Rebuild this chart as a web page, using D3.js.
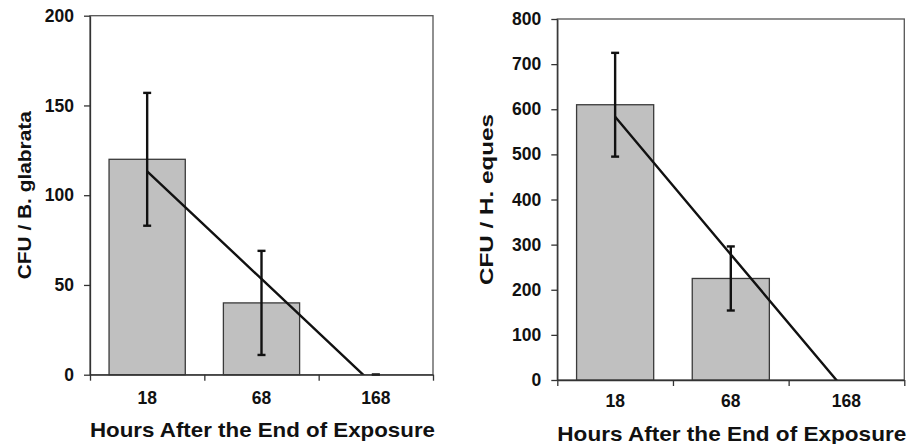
<!DOCTYPE html>
<html>
<head>
<meta charset="utf-8">
<script src="https://cdn.jsdelivr.net/npm/d3@7"></script>
<style>
  body { margin: 0; background: #fff; }
  svg text { font-family: Arial, "Liberation Sans", sans-serif; font-weight: bold; fill: #111; }
</style>
</head>
<body>
<div id="chart"></div>
<script>
const hours = ["18", "68", "168"];

const glabrataMean = [120, 40, 0];
const glabrataErr = [37, 29, 0];
const glabrataTicks = [0, 50, 100, 150, 200];

const equesMean = [610, 225, 0];
const equesErr = [115, 71, null];
const equesTicks = [0, 100, 200, 300, 400, 500, 600, 700, 800];

const xTitle = "Hours After the End of Exposure";

const svg = d3.select("#chart").append("svg")
    .attr("width", 917)
    .attr("height", 444);

renderPanel({
    id: "left",
    left: 90, right: 433, top: 15.7, bottom: 374.7,
    means: glabrataMean, errs: glabrataErr, ticks: glabrataTicks, yMax: 200,
    yTitle: "CFU / B. glabrata", yTitleX: 30.5, yTitleLen: 168,
    labelPad: 17, xTitleY: 437
});

renderPanel({
    id: "right",
    left: 557.3, right: 904.3, top: 19, bottom: 380,
    means: equesMean, errs: equesErr, ticks: equesTicks, yMax: 800,
    yTitle: "CFU / H. eques", yTitleX: 492.5, yTitleLen: 171,
    labelPad: 15, xTitleY: 440.5
});

function renderPanel(p) {
    const width = p.right - p.left,
        height = p.bottom - p.top;

    const g = svg.append("g")
        .attr("transform", "translate(" + p.left + "," + p.top + ")");

    const x = d3.scaleBand()
        .domain(hours)
        .range([0, width])
        .paddingInner(1 / 3)
        .paddingOuter(1 / 6);

    // boundaries between categories, for the x tick marks
    const xEdges = d3.scaleLinear()
        .domain([0, hours.length])
        .range([0, width]);

    const y = d3.scaleLinear()
        .domain([0, p.yMax])
        .range([height, 0]);

    g.append("clipPath")
        .attr("id", "clip-" + p.id)
        .append("rect")
        .attr("width", width)
        .attr("height", height);

    // plot area border
    g.append("rect")
        .attr("width", width)
        .attr("height", height)
        .attr("fill", "none")
        .attr("stroke", "#555")
        .attr("stroke-width", 1.3);

    g.selectAll(".bar")
        .data(p.means)
        .enter()
        .append("rect")
        .attr("class", "bar")
        .attr("x", function (d, i) { return x(hours[i]); })
        .attr("y", function (d) { return y(d); })
        .attr("width", x.bandwidth())
        .attr("height", function (d) { return height - y(d); })
        .attr("fill", "#c0c0c0")
        .attr("stroke", "#3a3a3a")
        .attr("stroke-width", 1.3);

    // linear trendline through the bar means (x = 1, 2, 3), clipped at 0
    const xs = p.means.map(function (d, i) { return i + 1; });
    const mx = d3.mean(xs), my = d3.mean(p.means);
    const slope = d3.sum(xs, function (v, i) { return (v - mx) * (p.means[i] - my); }) /
        d3.sum(xs, function (v) { return (v - mx) * (v - mx); });
    const trend = xs.map(function (v) { return [v, my + slope * (v - mx)]; });

    const line = d3.line()
        .x(function (d) { return x(hours[d[0] - 1]) + x.bandwidth() / 2; })
        .y(function (d) { return y(d[1]); });

    g.append("path")
        .datum(trend)
        .attr("clip-path", "url(#clip-" + p.id + ")")
        .attr("d", line)
        .attr("fill", "none")
        .attr("stroke", "#111")
        .attr("stroke-width", 2.4);

    // error bars
    const errData = p.means.map(function (d, i) {
        return {cat: hours[i], mean: d, err: p.errs[i]};
    }).filter(function (d) { return d.err !== null; });

    const eb = g.selectAll(".err")
        .data(errData)
        .enter()
        .append("g")
        .attr("class", "err")
        .attr("transform", function (d) {
            return "translate(" + (x(d.cat) + x.bandwidth() / 2) + ",0)";
        })
        .attr("stroke", "#111")
        .attr("stroke-width", 2.4);

    eb.append("line")
        .attr("y1", function (d) { return y(d.mean + d.err); })
        .attr("y2", function (d) { return y(Math.max(0, d.mean - d.err)); });
    eb.append("line")
        .attr("x1", -4).attr("x2", 4)
        .attr("y1", function (d) { return y(d.mean + d.err); })
        .attr("y2", function (d) { return y(d.mean + d.err); });
    eb.append("line")
        .attr("x1", -4).attr("x2", 4)
        .attr("y1", function (d) { return y(Math.max(0, d.mean - d.err)); })
        .attr("y2", function (d) { return y(Math.max(0, d.mean - d.err)); });

    // y axis
    const yAxis = g.append("g")
        .call(d3.axisLeft(y).tickValues(p.ticks).tickSize(6).tickSizeOuter(0).tickPadding(10));
    yAxis.selectAll("line, path").attr("stroke", "#333").attr("stroke-width", 1.3);
    yAxis.selectAll("text").style("font-size", "17.5px");

    // x axis tick marks at the category edges
    const xTickAxis = g.append("g")
        .attr("transform", "translate(0," + height + ")")
        .call(d3.axisBottom(xEdges).tickValues(d3.range(hours.length + 1)).tickFormat("").tickSize(6).tickSizeOuter(0));
    xTickAxis.selectAll("line, path").attr("stroke", "#333").attr("stroke-width", 1.3);

    // category labels
    const xLabelAxis = g.append("g")
        .attr("transform", "translate(0," + height + ")")
        .call(d3.axisBottom(x).tickSize(0).tickPadding(p.labelPad));
    xLabelAxis.select(".domain").remove();
    xLabelAxis.selectAll("text").style("font-size", "17.5px");

    svg.append("text")
        .attr("x", p.left)
        .attr("y", p.xTitleY)
        .attr("textLength", width + 2)
        .attr("lengthAdjust", "spacingAndGlyphs")
        .style("font-size", "21px")
        .text(xTitle);

    svg.append("text")
        .attr("transform", "translate(" + p.yTitleX + "," + (p.top + height / 2) + ") rotate(-90)")
        .attr("text-anchor", "middle")
        .attr("textLength", p.yTitleLen)
        .attr("lengthAdjust", "spacingAndGlyphs")
        .style("font-size", "19px")
        .text(p.yTitle);
}
</script>
</body>
</html>
